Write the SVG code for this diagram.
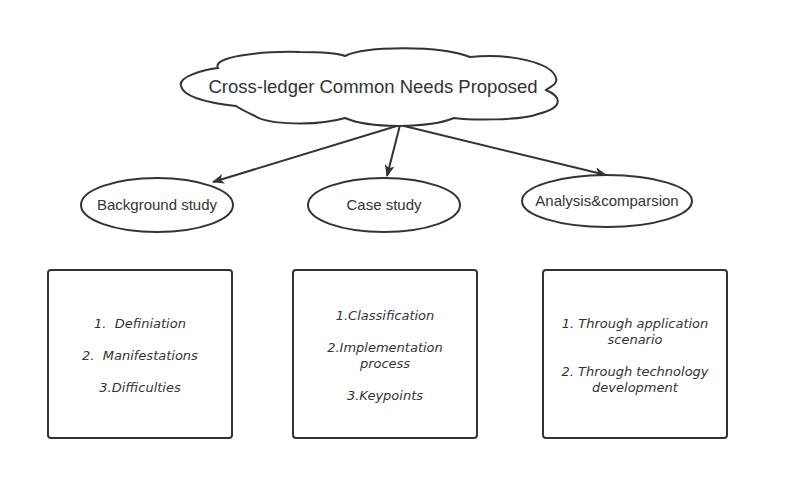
<svg xmlns="http://www.w3.org/2000/svg" width="789" height="501" viewBox="0 0 789 501">
<style>
.shape{fill:#fff;stroke:#333;stroke-width:2}
.hand{font-family:"Liberation Sans","DejaVu Sans",sans-serif;fill:#333;text-anchor:middle}
.box{font-family:"DejaVu Sans","Liberation Sans",sans-serif;font-style:italic;font-size:13px;fill:#333;text-anchor:middle}
.conn{stroke:#333;stroke-width:2;fill:none}
</style>
<defs>
<marker id="arr" viewBox="0 0 12 10" refX="11" refY="5" markerWidth="12" markerHeight="10" markerUnits="userSpaceOnUse" orient="auto">
<path d="M0,0 L12,5 L0,10 L3,5 Z" fill="#333"/>
</marker>
</defs>
<rect width="789" height="501" fill="#fff"/>
<g id="connectors">
<line class="conn" x1="400" y1="125" x2="213" y2="182" marker-end="url(#arr)"/>
<line class="conn" x1="400" y1="125" x2="387" y2="176" marker-end="url(#arr)"/>
<line class="conn" x1="400" y1="125" x2="606" y2="175" marker-end="url(#arr)"/>
</g>
<g id="cloud">
<path class="shape" d="M181,86 C178,77 202,70 218,68 C212,57 258,51 300,52 C323,52 337,53 345,56 C365,46 440,45 470,57 C512,53 552,63 556,78 C558,85 549,87 546,90 C560,96 566,107 538,114 C520,121 470,120 454,118 C430,128 370,129 345,118 C318,126 268,125 255,116 C242,110 236,106 236,106 C200,102 183,95 181,86 Z"/>
<text class="hand" x="373" y="93" font-size="18.5">Cross-ledger Common Needs Proposed</text>
</g>
<g id="background">
<ellipse class="shape" cx="157" cy="205" rx="76" ry="27"/>
<text class="hand" x="157" y="210" font-size="15">Background study</text>
</g>
<g id="case">
<ellipse class="shape" cx="384" cy="205" rx="76" ry="27"/>
<text class="hand" x="384" y="210" font-size="15">Case study</text>
</g>
<g id="analysis">
<ellipse class="shape" cx="607" cy="201" rx="85" ry="26"/>
<text class="hand" x="607" y="206" font-size="15">Analysis&amp;comparsion</text>
</g>
<g id="box1">
<rect class="shape" x="48" y="270" width="184" height="168" rx="3"/>
<text class="box" x="140" y="328" xml:space="preserve">1.  Definiation</text>
<text class="box" x="140" y="360" xml:space="preserve">2.  Manifestations</text>
<text class="box" x="140" y="392">3.Difficulties</text>
</g>
<g id="box2">
<rect class="shape" x="293" y="270" width="184" height="168" rx="3"/>
<text class="box" x="385" y="320">1.Classification</text>
<text class="box" x="385" y="352">2.Implementation</text>
<text class="box" x="385" y="368">process</text>
<text class="box" x="385" y="400">3.Keypoints</text>
</g>
<g id="box3">
<rect class="shape" x="543" y="270" width="184" height="168" rx="3"/>
<text class="box" x="635" y="328">1. Through application</text>
<text class="box" x="635" y="344">scenario</text>
<text class="box" x="635" y="376">2. Through technology</text>
<text class="box" x="635" y="392">development</text>
</g>
</svg>
